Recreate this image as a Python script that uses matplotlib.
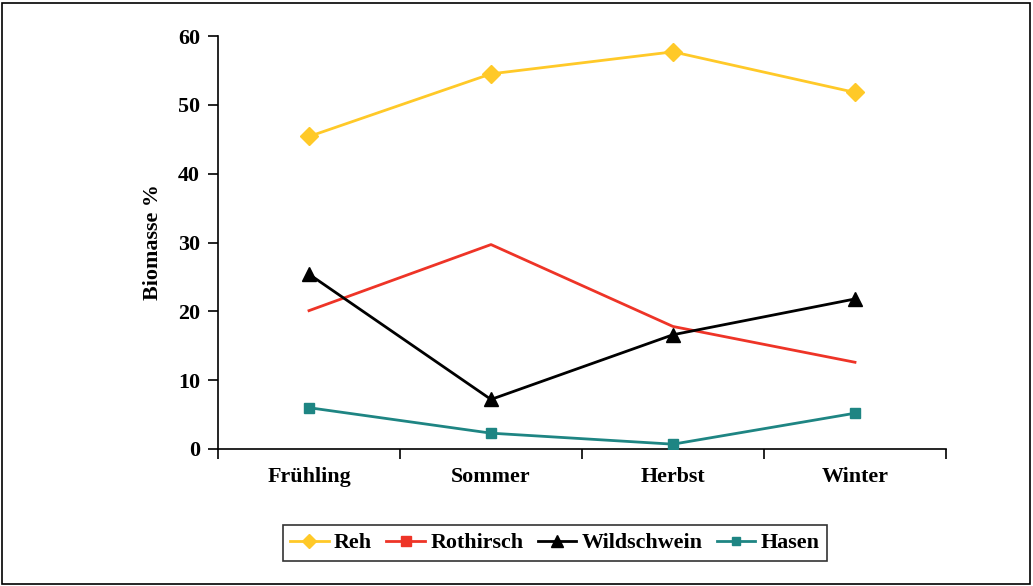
import matplotlib
matplotlib.use("Agg")
import matplotlib.pyplot as plt
from matplotlib.lines import Line2D
from matplotlib.patches import Rectangle

seasons = ["Frühling", "Sommer", "Herbst", "Winter"]
reh = [45.4, 54.5, 57.7, 51.8]
rothirsch = [20.1, 29.7, 17.8, 12.6]
wildschwein = [25.4, 7.2, 16.6, 21.8]
hasen = [6.0, 2.3, 0.7, 5.2]
yticks = [0, 10, 20, 30, 40, 50, 60]

plt.rcParams['font.family'] = ['Liberation Serif', 'DejaVu Serif']
plt.rcParams['font.weight'] = 'bold'

W, H = 1033, 586
fig = plt.figure(figsize=(W/100, H/100), dpi=100)
left, right, top, bottom = 218, 946, 36, 449
ax = fig.add_axes([left/W, (H-bottom)/H, (right-left)/W, (bottom-top)/H])

x = list(range(len(seasons)))
c_reh = '#FFC928'
c_rot = '#EE3427'
c_wild = '#000000'
c_has = '#1E8583'
lw = 2.0
ax.plot(x, reh, color=c_reh, lw=lw, marker='D', ms=9, zorder=3)
ax.plot(x, rothirsch, color=c_rot, lw=lw, zorder=3)
ax.plot(x, wildschwein, color=c_wild, lw=lw, marker='^', ms=10, zorder=3)
ax.plot(x, hasen, color=c_has, lw=lw, marker='s', ms=7, zorder=3)

fs = 15.8
ax.set_xlim(-0.5, len(seasons) - 0.5)
ax.set_ylim(0, 60)
ax.set_yticks(yticks)
ax.set_yticklabels([str(v) for v in yticks], fontsize=fs, fontweight='bold')
ax.set_xticks(x)
ax.set_xticklabels(seasons, fontsize=fs, fontweight='bold')
ax.tick_params(axis='x', length=0, pad=13)
ax.set_xticks([i - 0.5 for i in range(len(seasons) + 1)], minor=True)
ax.tick_params(axis='x', which='minor', length=7, width=1.2, direction='out')
ax.tick_params(axis='y', length=7, width=1.2, direction='out', pad=6)
for s in ['top', 'right']:
    ax.spines[s].set_visible(False)
for s in ['left', 'bottom']:
    ax.spines[s].set_linewidth(1.2)
ax.set_ylabel("Biomasse %", fontsize=fs, fontweight='bold', labelpad=11)

handles = [
    Line2D([], [], color=c_reh, lw=lw, marker='D', ms=7),
    Line2D([], [], color=c_rot, lw=lw, marker='s', ms=7),
    Line2D([], [], color=c_wild, lw=lw, marker='^', ms=8),
    Line2D([], [], color=c_has, lw=lw, marker='s', ms=6),
]
leg = fig.legend(handles, ["Reh", "Rothirsch", "Wildschwein", "Hasen"],
                 loc='center', bbox_to_anchor=(555/W, (H-543)/H), ncol=4,
                 frameon=True, fancybox=False, edgecolor='black',
                 prop={'size': fs, 'weight': 'bold'}, handlelength=1.75,
                 columnspacing=0.65, handletextpad=0.25, borderpad=0.35)
leg.get_frame().set_linewidth(1.2)

fig.patches.append(Rectangle((2/W, 2/H), (W-5)/W, (H-5)/H, transform=fig.transFigure,
                             fill=False, edgecolor='black', lw=1.2))

fig.savefig("out.png", dpi=100)
